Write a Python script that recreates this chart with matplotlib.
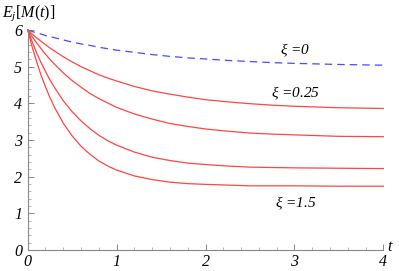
import matplotlib
matplotlib.use("Agg")
import matplotlib.pyplot as plt
from matplotlib.ticker import MultipleLocator

plt.rcParams['font.family'] = 'Liberation Serif'
plt.rcParams['mathtext.fontset'] = 'custom'
plt.rcParams['mathtext.rm'] = 'Liberation Serif'
plt.rcParams['mathtext.it'] = 'Liberation Serif:italic'

# valeurs
t = [0, 0.05, 0.1, 0.15, 0.2, 0.25, 0.3, 0.4, 0.5, 0.6, 0.7, 0.8, 0.9, 1.0,
     1.2, 1.4, 1.6, 1.8, 2.0, 2.25, 2.5, 2.75, 3.0, 3.5, 4.0]
xi_0 = [6.00, 5.96, 5.92, 5.89, 5.85, 5.82, 5.79, 5.73, 5.67, 5.62, 5.58, 5.53, 5.49, 5.45,
        5.39, 5.33, 5.28, 5.24, 5.21, 5.17, 5.14, 5.11, 5.09, 5.06, 5.04]
xi_025 = [6.00, 5.89, 5.79, 5.69, 5.60, 5.51, 5.43, 5.27, 5.13, 5.00, 4.89, 4.78, 4.69, 4.61,
          4.46, 4.34, 4.25, 4.17, 4.10, 4.04, 3.99, 3.95, 3.92, 3.88, 3.86]
xi_b = [6.00, 5.82, 5.65, 5.49, 5.34, 5.20, 5.07, 4.83, 4.62, 4.44, 4.27, 4.13, 4.01, 3.89,
        3.71, 3.57, 3.45, 3.37, 3.30, 3.24, 3.19, 3.16, 3.14, 3.10, 3.09]
xi_c = [6.00, 5.68, 5.38, 5.11, 4.87, 4.64, 4.44, 4.07, 3.77, 3.52, 3.31, 3.13, 2.98, 2.86,
        2.67, 2.53, 2.44, 2.37, 2.33, 2.29, 2.26, 2.25, 2.24, 2.23, 2.22]
xi_15 = [6.00, 5.54, 5.14, 4.77, 4.45, 4.16, 3.90, 3.46, 3.11, 2.83, 2.61, 2.43, 2.29, 2.18,
         2.02, 1.92, 1.85, 1.81, 1.79, 1.77, 1.75, 1.75, 1.75, 1.74, 1.74]

labels = [r'$\xi$ =0', r'$\xi$ =0.25', r'$\xi$ =1.5']
label_pos = [(3.01, 5.45), (3.01, 4.28), (3.01, 1.28)]

fig = plt.figure(figsize=(3.99, 2.71), dpi=100)
ax = fig.add_axes([0.0694, 0.0775, 0.8913, 0.8118])

red = '#ff4545'
ax.plot(t, xi_0, color='#4a4aff', lw=0.9, dashes=(6, 4), clip_on=False)
for y in [xi_025, xi_b, xi_c, xi_15]:
    ax.plot(t, y, color=red, lw=0.9, clip_on=False)

for lab, (x, y) in zip(labels, label_pos):
    ax.text(x, y, lab, fontsize=11, style='italic', ha='center', va='center')

ax.set_xlim(0, 4)
ax.set_ylim(0, 6)
for s in ['top', 'right']:
    ax.spines[s].set_visible(False)
for s in ['left', 'bottom']:
    ax.spines[s].set_color('#888888')
    ax.spines[s].set_linewidth(0.8)

ax.xaxis.set_major_locator(MultipleLocator(1))
ax.xaxis.set_minor_locator(MultipleLocator(0.2))
ax.yaxis.set_major_locator(MultipleLocator(1))
ax.yaxis.set_minor_locator(MultipleLocator(0.2))
ax.tick_params(which='major', direction='in', length=4, width=0.7, color='#888888',
               labelsize=11.5, pad=3)
ax.tick_params(axis='y', which='major', pad=4)
ax.tick_params(which='minor', direction='in', length=2.2, width=0.6, color='#aaaaaa')
for lbl in ax.get_xticklabels() + ax.get_yticklabels():
    lbl.set_style('italic')

fig.text(0.005, 0.95, r'$E_j[M(t)]$', fontsize=11.5, ha='left', va='center')
fig.text(0.978, 0.09, r'$t$', fontsize=11.5, ha='center', va='center')

fig.savefig('out.png', dpi=100)
